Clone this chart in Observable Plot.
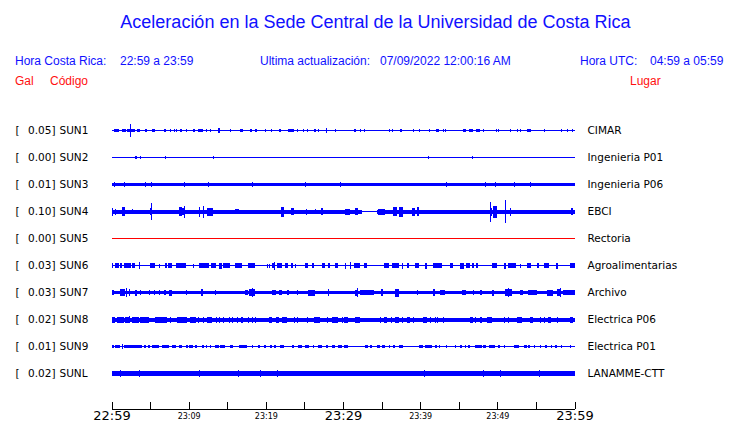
<!DOCTYPE html>
<html><head><meta charset="utf-8">
<script src="https://cdn.jsdelivr.net/npm/d3@7"></script>
<script src="https://cdn.jsdelivr.net/npm/@observablehq/plot@0.6"></script>
<style>
body{margin:0;background:#fff;}
#wrap{width:740px;height:423px;position:relative;overflow:hidden;background:#fff;}
#head{position:relative;height:100px;font-family:"Liberation Sans",Arial,sans-serif;}
#head span{position:absolute;line-height:1;white-space:pre;}
.t{font-size:18px;color:#1010ff;}
.b{font-size:12px;color:#1010ff;}
.r{font-size:12px;color:#ff1010;}
#chart svg{display:block;}
</style></head><body>
<div id="wrap">
<div id="head">
<span class="t" style="left:0;width:751px;text-align:center;top:13px">Aceleración en la Sede Central de la Universidad de Costa Rica</span>
<span class="b" style="left:15px;top:55px">Hora Costa Rica:</span>
<span class="b" style="left:120px;top:55px">22:59 a 23:59</span>
<span class="b" style="left:260px;top:55px">Ultima actualización:</span>
<span class="b" style="left:380px;top:55px">07/09/2022 12:00:16 AM</span>
<span class="b" style="left:580px;top:55px">Hora UTC:</span>
<span class="b" style="left:650px;top:55px">04:59 a 05:59</span>
<span class="r" style="left:15px;top:74.5px">Gal</span>
<span class="r" style="left:50px;top:74.5px">Código</span>
<span class="r" style="left:630px;top:74.5px">Lugar</span>
</div>
<div id="chart"></div>
</div>
<script>
// ---- data ----
const stations = ["SUN1","SUN2","SUN3","SUN4","SUN5","SUN6","SUN7","SUN8","SUN9","SUNL"];
const gal = ["0.05","0.00","0.01","0.10","0.00","0.03","0.03","0.02","0.01","0.02"];
const places = ["CIMAR","Ingenieria P01","Ingenieria P06","EBCI","Rectoria","Agroalimentarias","Archivo","Electrica P06","Electrica P01","LANAMME-CTT"];
const status = ["ok","ok","ok","ok","sin datos","ok","ok","ok","ok","ok"];
// background noise level of each trace (relative amplitude)
const noise = [0.6,0.5,1.7,2.0,0.6,0.6,1.7,2.0,0.6,2.8];
// quieter stretches: [start min, end min, level]
const quietSUN4 = [[32.4,34.4,0.6]];
// bursts: [start minute, end minute, amplitude]  (minutes after 22:59)
const evSUN1 = [[0.3,0.95,1.6],[1.4,1.9,1.6],[2.0,3.1,1.7],[2.37,2.37,6.3],[3.3,3.75,1.6],[4.4,4.6,1.5],[5.3,5.7,1.6],[6.8,7.1,1.6],[7.6,7.6,1.4],[8.1,8.1,1.4],[8.3,8.3,1.4],[8.9,9.2,1.6],[9.6,9.8,1.4],[10.5,10.8,1.4],[11.2,11.8,1.7],[12.2,12.4,1.4],[12.7,12.7,1.3],[13.8,14.1,2.2],[15.4,15.4,1.3],[16.7,17.1,1.7],[17.9,18.2,1.5],[18.6,18.8,1.5],[19.9,19.9,1.2],[20.7,20.7,1.4],[21.7,22.0,1.6],[22.9,23.6,1.7],[24.0,24.0,1.4],[24.8,25.0,1.5],[25.3,25.3,1.4],[26.2,26.5,1.5],[26.8,26.8,1.4],[27.8,27.8,2.3],[29.0,29.0,1.4],[31.4,31.7,1.7],[32.2,32.2,1.4],[32.7,32.7,1.4],[36.0,36.0,1.4],[36.3,36.3,1.4],[37.4,37.7,1.8],[39.1,39.1,1.3],[39.8,39.8,1.3],[41.2,41.2,1.4],[42.1,42.4,1.5],[42.9,42.9,1.4],[43.2,43.2,1.4],[45.6,46.0,1.5],[46.3,46.9,1.7],[47.2,47.7,1.6],[48.1,48.1,1.4],[49.8,49.8,1.4],[50.1,50.1,1.3],[51.6,51.6,1.4],[52.5,52.5,1.4],[52.9,52.9,1.4],[53.9,54.3,1.5],[56.0,56.0,1.3],[58.3,58.3,1.4],[59.0,59.0,1.3],[59.7,59.7,1.4]];
const evSUN2 = [[3.1,3.3,1.3],[3.7,3.7,1.3],[6.9,6.9,1.2],[13.1,13.1,1.2],[41.0,41.0,1.3],[46.7,46.7,1.3]];
const evSUN3 = [[0.3,0.3,2.6],[1.6,1.6,2.7],[4.3,4.3,2.5],[5.1,5.1,2.7],[9.4,9.4,2.7],[12.5,12.5,2.3],[18.2,18.2,2.3],[25.1,25.1,2.3],[29.55,29.55,2.3],[43.4,43.4,2.3],[48.4,48.4,2.3],[49.7,49.7,2.8],[52.1,52.1,2.3],[54.2,54.2,2.3]];
const evSUN4 = [[0,0.1,4],[0.43,0.55,3],[1.4,1.7,4.3],[2.6,2.7,2.5],[5.0,5.3,3.5],[5.1,5.1,8.3],[8.8,9.1,4.7],[9.2,9.5,3.5],[9.35,9.35,6],[11.3,11.3,5],[11.9,11.9,6],[12.4,13.2,4],[16.0,16.5,2.7],[22.0,22.3,5],[23.3,23.6,3.5],[25.2,25.2,3],[26.4,26.4,2.5],[27.2,27.4,3.5],[30.3,30.9,3],[31.6,32.0,3.5],[34.6,35.5,3],[36.5,37.0,4.5],[37.2,37.8,5],[38.9,39.3,4],[39.6,39.9,4.5],[49.0,49.3,4],[49.1,49.1,10],[49.5,49.9,6],[51.0,51.0,11.8],[51.6,51.6,4],[59.6,59.8,3.5]];
const evSUN5 = [];
const evSUN6 = [[0,0.1,2.3],[0.43,0.95,2.3],[1.16,1.4,2.3],[1.6,2.5,2.3],[2.7,3.1,2.3],[3.5,3.5,3.5],[5.0,5.7,2.3],[6.1,6.1,2],[6.9,7.2,2.3],[7.3,7.85,2.6],[8.4,9.6,2.3],[10.5,10.7,2],[11.3,12.6,2.3],[12.9,13.5,2.3],[13.9,14.3,3],[14.4,15.3,2.3],[16.0,16.9,2.3],[17.7,18.6,2.3],[20.1,20.1,2],[20.4,20.4,2],[20.8,21.2,2.5],[21.0,21.0,4],[21.4,22.1,2.3],[22.5,22.9,2.3],[23.2,23.5,2.5],[23.8,23.8,2],[25.1,25.5,2.3],[26.0,26.2,2.3],[27.3,27.7,2.3],[28.0,28.3,2.3],[28.9,29.3,2.3],[30.3,30.3,3],[30.85,30.85,3.5],[31.45,32.2,2.3],[32.66,33.1,2.3],[35.25,36.0,2.3],[36.3,37.2,2.3],[37.6,37.8,3],[38.3,38.6,2.3],[39.35,39.8,2.3],[40.6,40.9,3],[41.7,42.8,2.3],[43.9,44.2,2.3],[45.2,45.7,3],[46.0,46.5,2.3],[46.7,47.0,2.3],[47.3,47.5,2.3],[49.3,49.9,2.3],[50.8,51.1,3],[51.4,52.4,2.3],[52.9,52.9,2],[53.8,54.4,2.3],[55.2,55.4,2.3],[56.0,56.7,2.3],[57.6,57.8,3],[59.4,60,2.3]];
const evSUN7 = [[0,0.3,2.5],[1.16,1.7,3.5],[1.9,2.07,4.7],[2.24,2.46,3.5],[3.0,3.3,3],[3.75,3.75,2.5],[4.8,4.8,2.5],[5.5,5.5,2.5],[6.1,6.1,2.5],[6.8,7.0,2.5],[7.5,7.85,3],[9.6,9.6,2.5],[11.6,11.8,3.5],[13.4,13.4,2.5],[17.3,17.7,2.5],[17.8,18.6,3.2],[18.2,18.2,4.5],[20.8,21.3,2.5],[21.7,22.1,2.5],[22.7,22.95,2.5],[24.0,24.0,2.5],[25.5,26.4,3],[28.1,28.1,3.5],[31.6,32.0,3],[31.8,31.8,4.5],[32.2,34.0,2.5],[34.9,35.2,3.5],[36.8,37.2,4],[39.6,39.6,2.5],[41.7,41.9,3.5],[42.6,43.2,2.5],[45.4,46.0,2.2],[46.9,46.9,2.5],[47.8,48.0,2.5],[49.3,49.6,3],[51.0,51.9,3.5],[51.4,51.4,4.7],[52.9,53.3,2.5],[54.0,55.1,2.2],[56.4,57.25,3],[57.7,58.2,3.5],[58.1,58.1,4.5],[58.5,60,2.2]];
const evSUN8 = [[0,0.5,3],[0.73,1.6,3],[1.7,2.46,3],[2.3,2.3,3.7],[2.7,3.5,3],[3.75,4.8,3],[5.7,7.2,3],[7.6,7.6,3],[8.5,9.8,3],[10.2,10.9,3],[11.2,11.2,3],[11.8,11.8,3],[12.4,13.0,3],[13.5,13.5,3],[13.9,13.9,3],[14.5,14.5,3],[15.2,15.2,3],[15.6,15.6,3],[16.3,16.3,3],[16.8,17.1,3],[17.7,17.7,3],[18.2,18.2,3],[18.6,18.6,3],[20.4,20.8,3],[21.3,21.7,3],[22.1,22.7,3],[23.6,23.6,3],[24.0,24.0,3],[25.3,25.3,3],[26.3,27.0,3],[27.9,28.1,3],[28.6,29.4,3],[29.9,29.9,3],[30.07,30.7,3],[31.6,32.2,3],[34.8,34.8,3],[35.25,35.7,3],[36.2,36.2,3],[36.8,37.2,3],[37.6,37.6,3],[38.3,38.7,3],[39.05,39.05,3],[40.4,40.86,3],[41.3,41.3,3],[41.9,41.9,3],[42.2,42.2,3],[43.0,43.0,3],[46.5,46.8,3],[47.1,47.3,3],[47.8,48.0,3],[48.6,49.3,3],[50.8,50.8,3],[51.4,51.4,3],[52.5,53.2,3],[54.2,54.6,3],[55.5,55.5,3],[56.0,56.0,3],[56.6,56.9,3],[57.7,57.7,3],[59.4,59.8,3]];
const evSUN9 = [[0,0.3,1.5],[0.5,1.16,1.7],[1.3,1.3,2.5],[1.6,4.0,1.7],[4.2,4.5,1.5],[4.75,5.05,1.5],[5.3,6.1,1.5],[6.55,7.0,1.5],[7.1,7.4,1.5],[7.8,8.3,1.5],[8.8,9.2,1.5],[9.6,9.9,1.5],[10.1,10.5,1.5],[10.8,11.1,1.5],[11.7,11.95,1.5],[12.2,12.4,1.5],[12.7,12.9,1.5],[13.4,13.9,1.5],[14.1,14.75,1.5],[15.4,15.8,1.5],[16.5,17.6,1.5],[18.2,18.4,1.5],[19.0,19.3,1.5],[19.7,20.0,1.5],[20.6,20.8,1.5],[21.1,21.3,1.5],[21.9,22.3,1.5],[23.4,23.7,1.5],[24.2,24.7,1.5],[25.1,25.6,1.5],[26.1,26.3,1.5],[26.7,27.3,1.5],[27.8,28.0,1.5],[28.6,29.0,1.5],[29.4,29.85,1.5],[30.07,30.7,1.5],[32.9,33.2,1.5],[33.5,33.7,1.5],[34.4,34.8,1.5],[35.0,35.5,1.5],[35.9,36.1,1.5],[36.5,36.8,1.5],[37.2,37.75,1.5],[39.8,40.4,1.5],[40.6,41.5,1.5],[41.9,42.15,1.5],[42.4,42.6,1.5],[43.4,43.4,1.5],[44.5,44.7,1.5],[45.2,45.4,1.5],[45.8,46.0,1.5],[46.25,46.5,1.5],[47.1,48.0,1.5],[48.2,48.5,1.5],[48.9,49.7,1.5],[50.1,50.35,1.5],[50.8,51.0,1.5],[52.1,52.85,1.5],[53.4,53.8,1.5],[54.0,54.2,1.5],[54.7,54.7,1.5],[55.5,55.7,1.5],[56.2,56.4,1.5],[56.9,56.9,1.5],[57.5,57.7,1.5],[58.3,58.3,1.5],[59.4,59.6,1.5]];
const evSUNL = [[1.16,1.16,3.6],[3.5,3.5,3.8],[11.4,11.4,3.8],[16.4,16.4,3.4],[19.3,19.3,3.4],[21.4,21.4,3.6],[40.55,40.55,3.8],[48.2,48.2,3.6],[50.4,50.4,3.6],[55.4,55.4,3.4]];
const tickMinutes = [0,5,10,15,20,25,30,35,40,45,50,55,60];
const labelMinutes = [0,10,20,30,40,50,60];
const labelTexts = ["22:59","23:09","23:19","23:29","23:39","23:49","23:59"];
const majorLabels = ["22:59","23:29","23:59"];

// ---- build tables ----
const ROW = 27;        // amplitude units between traces
const YMAX = 278;      // bottom of frame in amplitude units
const TICK = 7;
const events = [evSUN1,evSUN2,evSUN3,evSUN4,evSUN5,evSUN6,evSUN7,evSUN8,evSUN9,evSUNL];
const quiet = {SUN4: quietSUN4};
const rows = stations.map((s,i)=>({row:i, station:s, gal:gal[i], place:places[i], status:status[i]}));

const baseRows = [];
rows.forEach(r=>{
  const q = (quiet[r.station]||[]).slice().sort((a,b)=>a[0]-b[0]);
  let cur = 0;
  q.forEach(([a,b,lvl])=>{
    baseRows.push({x1:cur,x2:a,c:r.row*ROW,h:noise[r.row],status:r.status});
    baseRows.push({x1:a,x2:b,c:r.row*ROW,h:lvl,status:r.status});
    cur = b;
  });
  baseRows.push({x1:cur,x2:60,c:r.row*ROW,h:noise[r.row],status:r.status});
});
const eventRows = [];
events.forEach((ev,i)=>ev.forEach(([a,b,amp])=>{
  eventRows.push({x1:a, x2:Math.max(b, a+0.13), c:i*ROW, h:amp, status:status[i]});
}));
const labels = labelMinutes.map((m,i)=>({m, label:labelTexts[i], major: majorLabels.includes(labelTexts[i])}));

const chart = Plot.plot({
  width: 740, height: 323,
  marginLeft: 111.5, marginRight: 165.5, marginTop: 30.5, marginBottom: 14.5,
  x: {domain:[0,60], axis:null},
  y: {domain:[0,YMAX], reverse:true, axis:null},
  color: {domain:["ok","sin datos"], range:["#0000ff","#ff0000"]},
  style: {fontFamily:"DejaVu Sans, sans-serif", background:"white", overflow:"visible"},
  marks: [
    Plot.rect(baseRows, {x1:"x1", x2:"x2", y1:d=>d.c-d.h, y2:d=>d.c+d.h, fill:"status", shapeRendering:"crispEdges"}),
    Plot.rect(eventRows, {x1:"x1", x2:"x2", y1:d=>d.c-d.h, y2:d=>d.c+d.h, fill:"status", shapeRendering:"crispEdges"}),
    Plot.ruleY([YMAX], {stroke:"black", shapeRendering:"crispEdges"}),
    Plot.ruleX(tickMinutes, {x:d=>d, y1:YMAX-TICK, y2:YMAX, stroke:"black", shapeRendering:"crispEdges"}),
    Plot.text(labels, {x:"m", text:"label", frameAnchor:"bottom", lineAnchor:"middle", dy:7, fontSize:d=>d.major?13:8, fill:"black"}),
    Plot.text(rows, {y:d=>d.row*ROW, text:()=>"[", frameAnchor:"left", textAnchor:"start", dx:-96.5, fontSize:10.5, fill:"black"}),
    Plot.text(rows, {y:d=>d.row*ROW, text:d=>d.gal+"]", frameAnchor:"left", textAnchor:"end", dx:-56.5, fontSize:10.5, fill:"black"}),
    Plot.text(rows, {y:d=>d.row*ROW, text:"station", frameAnchor:"left", textAnchor:"start", dx:-52.5, fontSize:10.5, fill:"black"}),
    Plot.text(rows, {y:d=>d.row*ROW, text:"place", frameAnchor:"right", textAnchor:"start", dx:12.5, fontSize:10.5, fill:"black"})
  ]
});
document.getElementById("chart").appendChild(chart);
</script>
</body></html>
